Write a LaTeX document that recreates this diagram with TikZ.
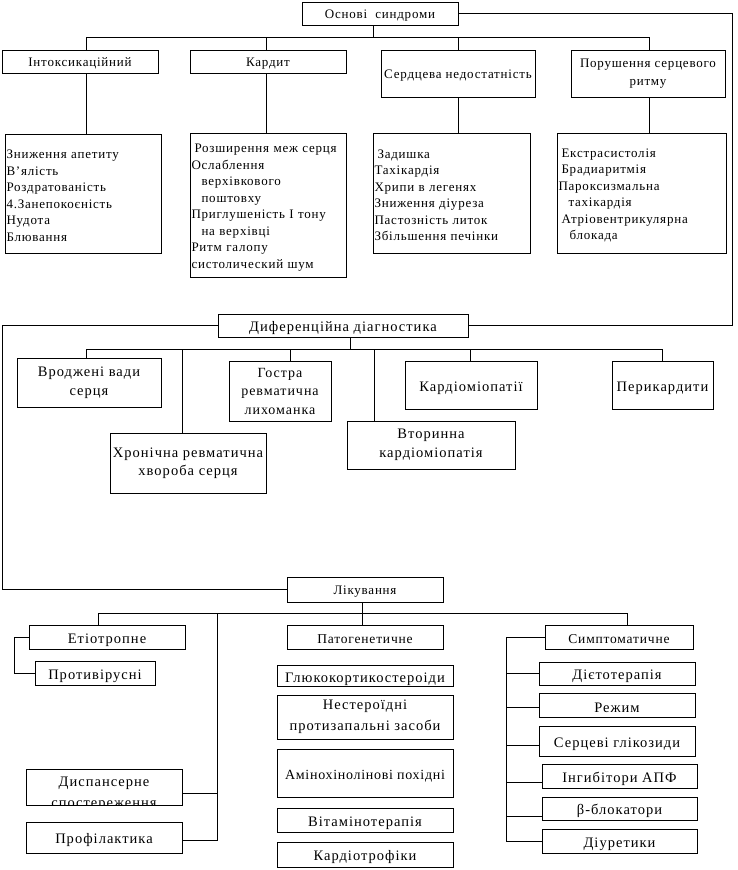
\documentclass[tikz,border=0pt]{standalone}
\usepackage{fontspec}
\setmainfont{Liberation Serif}[LetterSpace=6]
\newfontfamily\widefont{Liberation Serif}[LetterSpace=7]
\newfontfamily\amfont{Liberation Serif}[LetterSpace=5]
\begin{document}
\begin{tikzpicture}[x=1pt,y=-1pt,
  box/.style={draw, line width=0.9pt, inner sep=1pt, align=center, font=\fontsize{13}{17.5}\selectfont,
    execute at begin node={\rule{0pt}{13.5pt}}},
  wb/.style={draw, line width=0.9pt, inner sep=1pt, align=center, font=\widefont\fontsize{14.5}{18.5}\selectfont,
    execute at begin node={\rule{0pt}{15.5pt}}},
  sz/.style 2 args={minimum width=#1pt, minimum height=#2pt},
  lst/.style 2 args={draw, line width=0.9pt, inner xsep=1.5pt, inner ysep=0pt, align=left, text width=#1pt, minimum height=#2pt, font=\fontsize{13}{16.5}\selectfont,
    execute at begin node={\rule{0pt}{13.5pt}}},
  dtx/.style={font=\widefont\fontsize{14.5}{18}\selectfont, inner sep=0pt, anchor=base},
  ln/.style={line width=0.9pt}]
\useasboundingbox (0,0) rectangle (737,870);

% ---------- top level ----------
\node[box, sz={156}{23}] (osn) at (380,13.5) {Основі\ \ синдроми};
\node[box, sz={156}{23}] (intox) at (80,61.5) {Інтоксикаційний};
\node[box, sz={156}{23}] (kardyt) at (268,61.5) {Кардит};
\node[box, sz={154}{47}] (sn) at (458,73.5) {Сердцева недостатність};
\node[box, sz={154}{47}] (prs) at (648,73.5) {Порушення серцевого\\ритму};

\node[lst={153}{119}] (ilist) at (83,193.5) {Зниження апетиту\\В’ялість\\Роздратованість\\4.Занепокоєність\\Нудота\\Блювання};
\node[lst={153}{144}] (klist) at (268,205) {\hspace*{3pt}Розширення меж серця\\Ослаблення\\\hspace*{10pt}верхівкового\\\hspace*{10pt}поштовху\\Приглушеність I тону\\\hspace*{10pt}на верхівці\\Ритм галопу\\систолический шум};
\node[lst={154}{120}] (slist) at (451.5,193) {\hspace*{3pt}Задишка\\Тахікардія\\Хрипи в легенях\\Зниження діуреза\\Пастозність литок\\Збільшення печінки};
\node[lst={166}{120}] (plist) at (641.5,193) {\hspace*{3pt}Екстрасистолія\\\hspace*{3pt}Брадиаритмія\\Пароксизмальна\\\hspace*{10pt}тахікардія\\\hspace*{3pt}Атріовентрикулярна\\\hspace*{11pt}блокада};

\coordinate (ot) at (373,37);
\coordinate (t1) at (86,37);
\coordinate (t2) at (266,37);
\coordinate (t3) at (458,37);
\coordinate (t4) at (649,37);
\coordinate (rr) at (732,0);
\draw[ln] (osn.south -| ot) -- (ot);
\draw[ln] (t1) -- (t4);
\draw[ln] (t1) -- (intox.north -| t1);
\draw[ln] (t2) -- (kardyt.north -| t2);
\draw[ln] (t3) -- (sn.north -| t3);
\draw[ln] (t4) -- (prs.north -| t4);
\draw[ln] (intox.south -| t1) -- (ilist.north -| t1);
\draw[ln] (kardyt.south -| t2) -- (klist.north -| t2);
\draw[ln] (sn.south -| t3) -- (slist.north -| t3);
\draw[ln] (prs.south -| t4) -- (plist.north -| t4);

% ---------- differential diagnosis ----------
\node[wb, sz={250}{23}] (dif) at (343,325.5) {Диференційна діагностика};
\draw[ln] (osn.east) -- (osn.east -| rr) |- (dif.east);

\node[wb, sz={144}{49}] (vv) at (89,382.5) {Вроджені вади\\серця};
\node[wb, sz={156}{60}] (hr) at (188,463) {Хронічна ревматична\\хвороба серця};
\node[wb, sz={102}{60}, font=\widefont\fontsize{14}{18.5}\selectfont] (gr) at (280,391) {Гостра\\ревматична\\лихоманка};
\node[wb, sz={168}{48}] (vk) at (431,445) {Вторинна\\кардіоміопатія};
\node[wb, sz={132}{48}] (km) at (471,385) {Кардіоміопатії};
\node[wb, sz={101}{48}] (per) at (662.5,385) {Перикардити};

\coordinate (dt) at (350,349);
\coordinate (m1) at (86,349);
\coordinate (m2) at (182,349);
\coordinate (m3) at (290,349);
\coordinate (m4) at (374,349);
\coordinate (m5) at (470,349);
\coordinate (m6) at (662,349);
\draw[ln] (dif.south -| dt) -- (dt);
\draw[ln] (m1) -- (m6);
\draw[ln] (m1) -- (vv.north -| m1);
\draw[ln] (m2) -- (hr.north -| m2);
\draw[ln] (m3) -- (gr.north -| m3);
\draw[ln] (m4) -- (vk.north -| m4);
\draw[ln] (m5) -- (km.north -| m5);
\draw[ln] (m6) -- (per.north -| m6);

% ---------- treatment ----------
\node[box, sz={156}{25}] (lik) at (365,589.5) {Лікування};
\coordinate (ll) at (2,0);
\draw[ln] (dif.west) -- (dif.west -| ll) |- (lik.west);

\node[wb, sz={156}{24}] (et) at (107,637) {Етіотропне};
\node[wb, sz={120}{24}] (pv) at (95,673) {Противірусні};
\node[box, sz={156}{36}] (disp) at (104,787) {};
\begin{scope}
\clip (disp.south west) rectangle (disp.north east);
\node[dtx] (dtext1) at (104,786) {Диспансерне};
\node[dtx] (dtext2) at (104,807) {спостереження};
\end{scope}
\node[wb, sz={156}{31}] (prof) at (104,837.5) {Профілактика};

\node[box, sz={156}{24}, font=\fontsize{13.5}{17.5}\selectfont] (pat) at (365,637) {Патогенетичне};
\node[wb, sz={176}{20}, execute at begin node={\rule{0pt}{14pt}}] (gl) at (365,676) {Глюкокортикостероіди};
\node[wb, sz={176}{44}, font=\widefont\fontsize{14.5}{21}\selectfont] (ns) at (365,717) {Нестероїдні\\протизапальні засоби};
\node[wb, sz={176}{48}, font=\amfont\fontsize{14}{18}\selectfont] (am) at (365,773) {Амінохінолінові похідні};
\node[wb, sz={176}{24}] (vit) at (365,820) {Вітамінотерапія};
\node[wb, sz={176}{25}] (kt) at (365,854.5) {Кардіотрофіки};

\node[box, sz={148}{24}, font=\fontsize{13.5}{17.5}\selectfont] (sym) at (619,637) {Симптоматичне};
\node[wb, sz={156}{23}] (diet) at (617,673.5) {Дієтотерапія};
\node[wb, sz={156}{24}] (rez) at (617,705) {Режим};
\node[wb, sz={156}{30}] (sg) at (617,741) {Серцеві глікозиди};
\node[wb, sz={155}{24}] (ing) at (619.5,776) {Інгибітори АПФ};
\node[wb, sz={155}{23}] (bb) at (619.5,808.5) {β-блокатори};
\node[wb, sz={155}{24}] (diu) at (619.5,841) {Діуретики};

\coordinate (lt) at (362,613);
\coordinate (b1) at (98,613);
\coordinate (b2) at (217,613);
\coordinate (b3) at (627,613);
\coordinate (el) at (14,0);
\coordinate (sl) at (506,0);
\draw[ln] (lik.south -| lt) -- (pat.north -| lt);
\draw[ln] (b1) -- (b3);
\draw[ln] (b1) -- (et.north -| b1);
\draw[ln] (b3) -- (sym.north -| b3);
\draw[ln] (et.west) -- (et.west -| el) |- (pv.west);
\draw[ln] (b2) |- ([yshift=-2.5pt]prof.east);
\draw[ln] ([yshift=-6pt]disp.east) -- ([yshift=-6pt]disp.east -| b2);
\draw[ln] (sym.west) -- (sym.west -| sl) |- (diu.west);
\draw[ln] (diet.west -| sl) -- (diet.west);
\draw[ln] ([yshift=-2pt]rez.west -| sl) -- ([yshift=-2pt]rez.west);
\draw[ln] ([yshift=-4pt]sg.west -| sl) -- ([yshift=-4pt]sg.west);
\draw[ln] ([yshift=-6pt]ing.west -| sl) -- ([yshift=-6pt]ing.west);
\draw[ln] ([yshift=-8pt]bb.west -| sl) -- ([yshift=-8pt]bb.west);
\end{tikzpicture}
\end{document}
